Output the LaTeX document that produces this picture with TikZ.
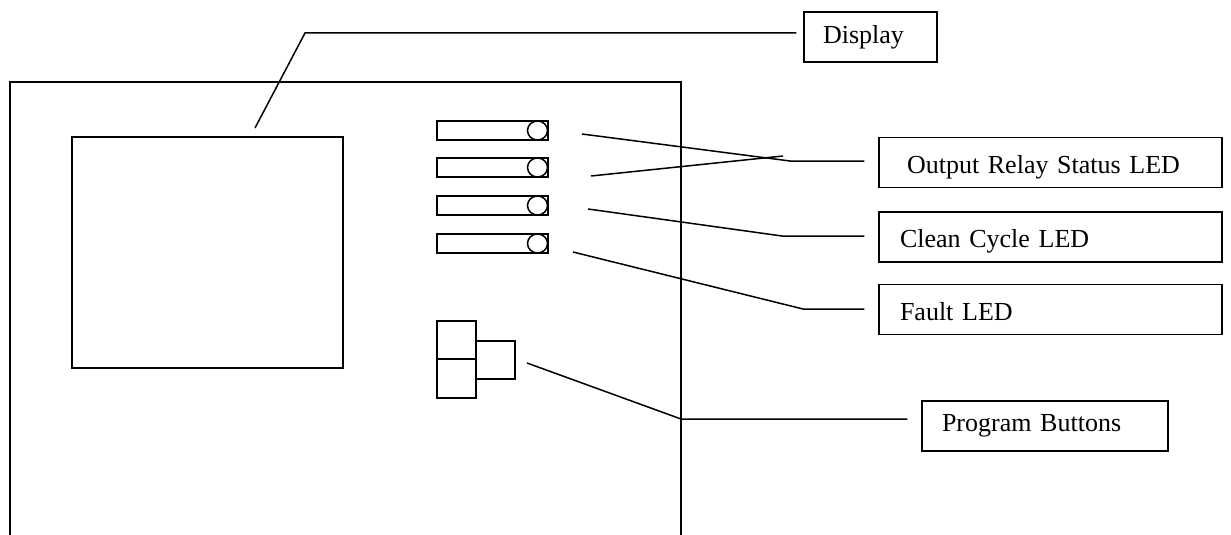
\documentclass[tikz,border=0pt]{standalone}
\usepackage{fontspec}
\setmainfont{Liberation Serif}
\usetikzlibrary{positioning,calc}

\begin{document}
\begin{tikzpicture}[x=0.5pt,y=-0.5pt,line width=0.75pt,
	lbl/.style={draw, align=left, minimum height=25pt, font=\fontsize{13}{15}\selectfont},
	ledlbl/.style={lbl, text height=13pt, text depth=2.5pt},
	leader/.style={shorten >=7pt}]
	\useasboundingbox (0,0) rectangle (1231,535);
	% panel outline (open at the bottom)
	\draw (10,535) -- (10,82) -- (681,82) -- (681,535);
	% display window
	\draw (72,137) rectangle (343,368);
	% status LEDs
	\foreach \y in {121,158,196,234}{
		\draw (437,\y) rectangle (548,\y+19);
		\draw (537.5,\y+9.5) ellipse (10 and 9.5);
	}
	% program buttons
	\draw (437,321) rectangle (476,359);
	\draw (437,359) rectangle (476,398);
	\draw (476,341) rectangle (515,379);
	% labels
	\node[lbl, inner xsep=9.5pt, text width=47.5pt] (disp) at (870.5,37) {Display};
	\node[ledlbl, inner xsep=14pt, text width=143.5pt] (relay) at (1050.5,162.5) {Output Relay Status LED};
	\node[ledlbl, inner xsep=10.5pt, text width=150.5pt] (clean) at (1050.5,237) {Clean Cycle LED};
	\node[ledlbl, inner xsep=10.5pt, text width=150.5pt] (fault) at (1050.5,309.5) {Fault LED};
	\node[lbl, inner xsep=10pt, text width=103pt] (prog) at (1045,426) {Program Buttons};
	% leader lines
	\coordinate (dispA) at (255,128);
	\coordinate (dispK) at (305,33);
	\coordinate (relayA) at (582,134);
	\coordinate (relayK) at (790,161);
	\coordinate (relayB) at (591,176);
	\coordinate (relayC) at (783,156);
	\coordinate (cleanA) at (588,209);
	\coordinate (cleanK) at (782,236);
	\coordinate (faultA) at (573,252);
	\coordinate (faultK) at (803,309);
	\coordinate (progA) at (527,363);
	\coordinate (progK) at (681,419);
	\draw[shorten >=3.5pt] (dispA) -- (dispK) -- (dispK -| disp.west);
	\draw[leader] (relayA) -- (relayK) -- (relayK -| relay.west);
	\draw (relayB) -- (relayC);
	\draw[leader] (cleanA) -- (cleanK) -- (cleanK -| clean.west);
	\draw[leader] (faultA) -- (faultK) -- (faultK -| fault.west);
	\draw[leader] (progA) -- (progK) -- (progK -| prog.west);
\end{tikzpicture}
\end{document}
